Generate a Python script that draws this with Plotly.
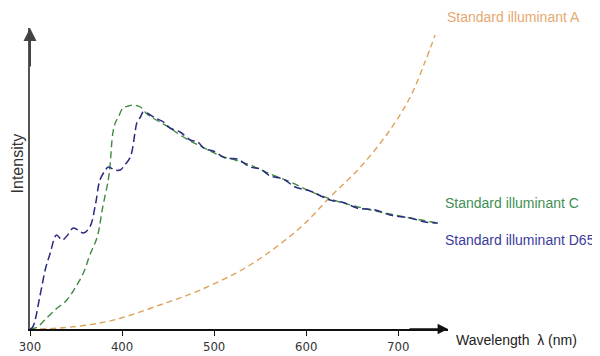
import plotly.graph_objects as go

# Wavelength (nm) and relative intensity
wl_a = [300, 333, 376, 399, 441, 485, 539, 593, 626, 659, 691, 713, 729, 740]
int_a = [0, 1, 6, 11, 24, 39, 64, 101, 132, 162, 199, 232, 267, 294]

wl_c = [300, 308, 316, 327, 340, 349, 358, 365, 373, 379, 385, 387, 390, 393, 396,
        401, 407, 412, 420, 425, 430, 441, 452, 463, 474, 485, 496, 507, 523, 539,
        561, 583, 604, 626, 648, 670, 691, 713, 743]
int_c = [0, 2, 9, 19, 29, 41, 56, 74, 92, 122, 149, 164, 196, 207, 212,
         221, 223, 224, 222, 217, 213, 207, 201, 194, 188, 183, 178, 173, 169, 164,
         155, 147, 138, 130, 124, 119, 115, 111, 106]

wl_d65 = [300, 303, 311, 317, 322, 327, 329, 335, 340, 347, 352, 358, 365, 371, 376,
          382, 385, 392, 398, 403, 409, 414, 416, 420, 423, 427, 436, 445, 452, 463,
          474, 482, 490, 499, 512, 525, 539, 550, 561, 575, 588, 604, 626, 642, 655,
          675, 691, 713, 729, 743]
int_d65 = [0, 2, 34, 61, 76, 92, 94, 89, 93, 101, 99, 96, 102, 124, 149,
           159, 162, 159, 159, 164, 172, 196, 206, 212, 217, 216, 211, 207, 201, 197,
           189, 187, 180, 178, 171, 170, 162, 160, 153, 150, 142, 138, 129, 126, 121,
           119, 114, 111, 107, 106]

x_ticks = [300, 400, 500, 600, 700]

fig = go.Figure()
fig.add_trace(go.Scatter(x=wl_a, y=int_a, mode="lines", line_shape="spline",
                         line=dict(color="#dda25a", width=1.4, dash="6px,4px"),
                         showlegend=False, hoverinfo="skip"))
fig.add_trace(go.Scatter(x=wl_c, y=int_c, mode="lines", line_shape="spline",
                         line=dict(color="#3f8a3f", width=1.4, dash="7px,4px"),
                         showlegend=False, hoverinfo="skip"))
fig.add_trace(go.Scatter(x=wl_d65, y=int_d65, mode="lines", line_shape="spline",
                         line=dict(color="#2a2a80", width=1.5, dash="8px,4px"),
                         showlegend=False, hoverinfo="skip"))

lab_font = "Liberation Sans, Arial, sans-serif"
annos = [
    # axis arrows
    dict(x=0, y=1.0, ax=0, ay=40, xref="paper", yref="paper",
         showarrow=True, arrowhead=2, arrowsize=1.3, arrowwidth=2, arrowcolor="#444", text=""),
    dict(x=1.0, y=0, ax=-40, ay=0, xref="paper", yref="paper",
         showarrow=True, arrowhead=2, arrowsize=1.3, arrowwidth=1.6, arrowcolor="#111", text=""),
    dict(x=1.0, y=1.0, xref="paper", yref="paper", xshift=-3, yshift=11,
         text="Standard illuminant A", showarrow=False,
         xanchor="left", yanchor="middle", font=dict(family=lab_font, size=14, color="#e6a872")),
    dict(x=749, y=126, xref="x", yref="y", text="Standard illuminant C", showarrow=False,
         xanchor="left", yanchor="middle", font=dict(family=lab_font, size=14, color="#3f8f55")),
    dict(x=749, y=89, xref="x", yref="y", text="Standard illuminant D65", showarrow=False,
         xanchor="left", yanchor="middle", font=dict(family=lab_font, size=14, color="#3c3c9c")),
    dict(x=1.0, y=0, xref="paper", yref="paper", xshift=6, yshift=-11, text="Wavelength  λ (nm)",
         showarrow=False, xanchor="left", yanchor="middle",
         font=dict(family=lab_font, size=14, color="#222")),
    dict(x=0, y=0.55, xref="paper", yref="paper", xshift=-13, text="Intensity", textangle=-90,
         showarrow=False, xanchor="center", yanchor="middle",
         font=dict(family=lab_font, size=16, color="#333")),
]

fig.update_layout(
    width=592, height=348,
    margin=dict(l=22, r=152, t=20, b=27, autoexpand=False),
    paper_bgcolor="white", plot_bgcolor="white",
    annotations=annos,
    xaxis=dict(range=[300, 754], showgrid=False, zeroline=False, showline=True,
               linecolor="#111", linewidth=1.6, ticks="outside", ticklen=5, tickwidth=1.2,
               tickcolor="#111", tickvals=x_ticks, ticktext=[str(v) for v in x_ticks],
               tickfont=dict(family="Liberation Sans Narrow, DejaVu Sans Condensed, sans-serif",
                             size=13, color="#333")),
    yaxis=dict(range=[0, 301], showgrid=False, zeroline=False, showline=True,
               linecolor="#555", linewidth=2, showticklabels=False, ticks=""),
)

fig.write_html("out.html")
